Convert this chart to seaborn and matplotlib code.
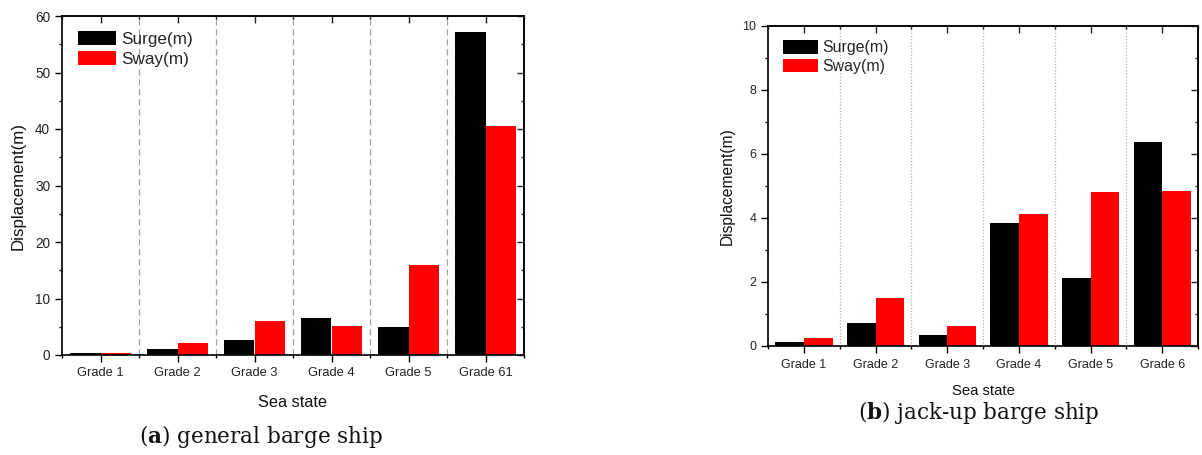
import numpy as np
import pandas as pd
import matplotlib
matplotlib.use("Agg")
import matplotlib.pyplot as plt
import seaborn as sns
from matplotlib.patches import Patch

# Categories and series values
grades_a = ["Grade 1", "Grade 2", "Grade 3", "Grade 4", "Grade 5", "Grade 61"]
surge_a = [0.3, 1.1, 2.6, 6.5, 4.9, 57.2]
sway_a = [0.4, 2.1, 6.0, 5.1, 15.9, 40.6]

grades_b = ["Grade 1", "Grade 2", "Grade 3", "Grade 4", "Grade 5", "Grade 6"]
surge_b = [0.14, 0.71, 0.35, 3.85, 2.13, 6.36]
sway_b = [0.24, 1.50, 0.61, 4.13, 4.82, 4.83]

series_names = ["Surge(m)", "Sway(m)"]
colors = {"Surge(m)": "#000000", "Sway(m)": "#ff0000"}

sns.set_theme(style="ticks")
plt.rcParams["font.family"] = ["Liberation Sans", "DejaVu Sans"]
plt.rcParams["mathtext.fontset"] = "dejavuserif"


def long_table(grades, surge, sway):
    return pd.DataFrame({
        "grade": grades * 2,
        "value": list(surge) + list(sway),
        "series": [series_names[0]] * len(grades) + [series_names[1]] * len(grades),
    })


fig = plt.figure(figsize=(12.02, 4.55), dpi=100)
ax_a = fig.add_axes([62 / 1202, 100 / 455, 462 / 1202, 339 / 455])
ax_b = fig.add_axes([768 / 1202, 109 / 455, 430 / 1202, 320 / 455])


def draw_panel(ax, grades, surge, sway, ymax, ymajor, yminor, fs, grid_style, grid_color):
    df = long_table(grades, surge, sway)
    sns.barplot(data=df, x="grade", y="value", hue="series", palette=colors,
                width=0.8, linewidth=0, saturation=1, ax=ax, legend=False,
                order=grades, hue_order=series_names)
    n = len(grades)
    ax.set_xlim(-0.5, n - 0.5)
    ax.set_ylim(0, ymax)
    # group separators
    for b in np.arange(0.5, n - 0.5, 1.0):
        ax.axvline(b, color=grid_color, lw=0.9, ls=grid_style, zorder=0)

    for s in ax.spines.values():
        s.set_visible(True)
        s.set_color("black")
        s.set_linewidth(1.2)

    ax.set_yticks(np.arange(0, ymax + 0.001, ymajor))
    ax.set_yticks(np.arange(0, ymax + 0.001, yminor), minor=True)
    ax.set_xticks(range(n))
    ax.set_xticklabels(grades)
    ax.set_xticks(np.arange(-0.5, n, 1.0), minor=True)
    ax.tick_params(axis="both", which="major", direction="out", length=5, width=1,
                   color="black", labelcolor="#222222")
    ax.tick_params(axis="both", which="minor", direction="out", length=2.5, width=1,
                   color="black")
    ax.tick_params(axis="x", labelsize=fs["xtick"], pad=4)
    ax.tick_params(axis="y", labelsize=fs["ytick"], pad=3.5)

    # mirrored ticks pointing inward
    sec_y = ax.secondary_yaxis("right")
    sec_y.set_yticks(np.arange(0, ymax + 0.001, ymajor))
    sec_y.set_yticks(np.arange(0, ymax + 0.001, yminor), minor=True)
    sec_y.tick_params(which="major", direction="in", length=5, width=1, labelright=False)
    sec_y.tick_params(which="minor", direction="in", length=2.5, width=1)
    sec_y.spines["right"].set_linewidth(1.2)
    sec_x = ax.secondary_xaxis("top")
    sec_x.set_xticks(range(n))
    sec_x.set_xticks(np.arange(-0.5, n, 1.0), minor=True)
    sec_x.tick_params(which="major", direction="in", length=5, width=1, labeltop=False)
    sec_x.tick_params(which="minor", direction="in", length=2.5, width=1)
    sec_x.spines["top"].set_linewidth(1.2)

    ax.set_xlabel("Sea state", fontsize=fs["xlabel"], labelpad=fs["xpad"], color="#111111")
    ax.set_ylabel("Displacement(m)", fontsize=fs["ylabel"], labelpad=fs["ypad"], color="#111111")

    handles = [Patch(facecolor=colors[s], edgecolor="none", label=s) for s in series_names]
    ax.legend(handles=handles, loc="upper left", bbox_to_anchor=(0.035, 0.955),
              frameon=False, fontsize=fs["legend"], handlelength=2.2, handleheight=0.9,
              handletextpad=0.3, labelspacing=0.2, borderpad=0, borderaxespad=0)


draw_panel(ax_a, grades_a, surge_a, sway_a, 60, 10, 5,
           dict(xtick=9.3, ytick=9.8, xlabel=11.7, ylabel=12.2, legend=12.3, xpad=11, ypad=6.5),
           (0, (5, 3)), "#a0a0a0")
draw_panel(ax_b, grades_b, surge_b, sway_b, 10, 2, 1,
           dict(xtick=9, ytick=9, xlabel=10.7, ylabel=11.2, legend=11.4, xpad=10, ypad=5.5),
           (0, (1, 1.5)), "#b0b0b0")

fig.text(261 / 1202, 18 / 455, r"($\mathbf{a}$) general barge ship", family="DejaVu Serif",
         fontsize=15.5, ha="center", va="center", color="#111111")
fig.text(979 / 1202, 42 / 455, r"($\mathbf{b}$) jack-up barge ship", family="DejaVu Serif",
         fontsize=15.5, ha="center", va="center", color="#111111")

fig.savefig("out.png", dpi=100, facecolor="white")
